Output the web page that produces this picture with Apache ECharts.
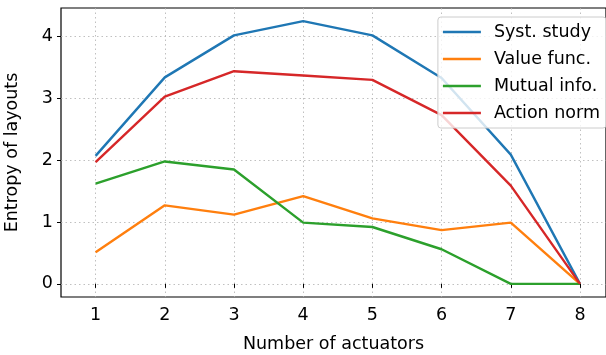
<!DOCTYPE html>
<html><head><meta charset="utf-8">
<script src="https://cdn.jsdelivr.net/npm/echarts@6/dist/echarts.min.js"></script>
<style>html,body{margin:0;padding:0;background:#fff}#c{width:606px;height:355px}</style>
</head><body><div id="c"></div>
<script>
const actuators = [1, 2, 3, 4, 5, 6, 7, 8];
const systStudy = [2.07, 3.34, 4.02, 4.25, 4.02, 3.33, 2.09, 0];
const valueFunc = [0.51, 1.27, 1.12, 1.42, 1.06, 0.87, 0.99, 0];
const mutualInfo = [1.62, 1.98, 1.85, 0.99, 0.92, 0.56, 0, 0];
const actionNorm = [1.97, 3.03, 3.44, 3.37, 3.30, 2.73, 1.59, 0];
const seriesNames = ['Syst. study', 'Value func.', 'Mutual info.', 'Action norm'];
const colors = ['#1f77b4', '#ff7f0e', '#2ca02c', '#d62728'];
const xTicks = [1, 2, 3, 4, 5, 6, 7, 8];
const yTicks = [0, 1, 2, 3, 4];

const font = 'DejaVu Sans';
const fs = 17.5;
const chart = echarts.init(document.getElementById('c'), null, {renderer: 'canvas'});
const allData = [systStudy, valueFunc, mutualInfo, actionNorm];
const grid = {color: '#b0b0b0', type: [1.5, 3], width: 0.8};
chart.setOption({
  animation: false,
  grid: {left: 61, top: 8, right: 0, bottom: 58, outerBoundsMode: 'none', containLabel: false, show: true, borderColor: '#000', borderWidth: 1.2, backgroundColor: 'transparent'},
  xAxis: {
    type: 'value', min: 0.5, max: 8.376,
    name: 'Number of actuators', nameLocation: 'middle', nameGap: 38,
    nameTextStyle: {fontFamily: font, fontSize: fs, color: '#000'},
    axisLine: {show: false},
    axisTick: {show: true, inside: false, length: 4, customValues: xTicks, lineStyle: {color: '#000', width: 1}},
    axisLabel: {customValues: xTicks, fontFamily: font, fontSize: fs, color: '#000', margin: 9},
    splitLine: {show: true, lineStyle: grid}
  },
  yAxis: {
    type: 'value', min: -0.2125, max: 4.4625,
    name: 'Entropy of layouts', nameLocation: 'middle', nameGap: 40, nameRotate: 90,
    nameTextStyle: {fontFamily: font, fontSize: fs, color: '#000'},
    axisLine: {show: false},
    axisTick: {show: true, inside: false, length: 4, customValues: yTicks, lineStyle: {color: '#000', width: 1}},
    axisLabel: {customValues: yTicks, fontFamily: font, fontSize: fs, color: '#000', margin: 8},
    splitLine: {show: true, lineStyle: grid}
  },
  legend: {
    right: 0, top: 17, orient: 'vertical', itemGap: 9,
    icon: 'rect', itemWidth: 38, itemHeight: 2.5,
    backgroundColor: 'rgba(255,255,255,0.8)', borderColor: '#cccccc', borderWidth: 1, borderRadius: 3,
    padding: [6, 6, 6, 5],
    textStyle: {fontFamily: font, fontSize: fs, color: '#000', padding: [0, 0, 0, 8]},
    data: seriesNames
  },
  series: seriesNames.map((n, i) => ({
    name: n, type: 'line', showSymbol: false, symbol: 'none',
    data: actuators.map((x, j) => [x, allData[i][j]]),
    lineStyle: {color: colors[i], width: 2.4}, itemStyle: {color: colors[i]}
  }))
});
</script></body></html>
